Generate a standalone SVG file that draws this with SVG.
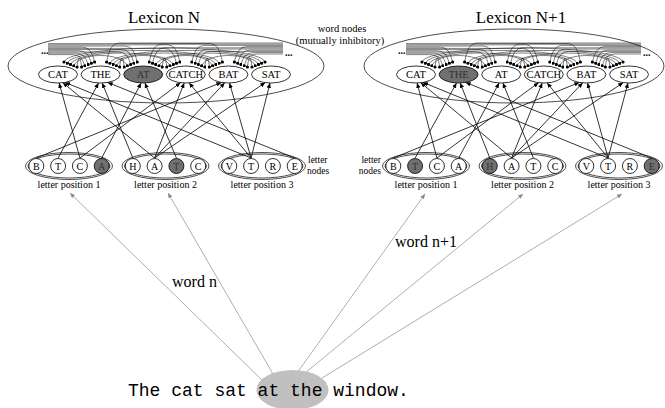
<svg xmlns="http://www.w3.org/2000/svg" width="665" height="408" viewBox="0 0 665 408">
<style>
.serif{font-family:"Liberation Serif","Times New Roman",serif;fill:#000}
.title{font-size:17px;text-anchor:middle}
.wlab{font-size:10.5px;text-anchor:middle}
.llab{font-size:10px;text-anchor:middle}
.side{font-size:9.5px}
.note{font-size:10.5px;text-anchor:middle}
.node{fill:#fff;stroke:#000;stroke-width:0.8}
.on{fill:#707070}
.ontext{fill:#333}
.lex{fill:none;stroke:#000;stroke-width:0.7}
.grp{fill:none;stroke:#000;stroke-width:0.7}
.ff{stroke:#000;stroke-width:0.8;fill:none;marker-end:url(#arr)}
.inh{stroke:#000;stroke-width:0.5;fill:none}
.i2{marker-start:url(#dot);marker-end:url(#dot)}
.i1{marker-start:url(#dot)}
.gaze{stroke:#999;stroke-width:0.8;fill:none;marker-end:url(#garr)}
.ell{font-size:10px;font-weight:bold}
.wordn{font-size:16px}
.mono{font-family:"Liberation Mono","Courier New",monospace;font-size:18px;fill:#000}
</style>
<defs>
<marker id="arr" viewBox="0 0 8 8" refX="8" refY="4" markerWidth="5" markerHeight="5" markerUnits="userSpaceOnUse" orient="auto"><path d="M0,0.5 L8,4 L0,7.5 z" fill="#000"/></marker>
<marker id="garr" viewBox="0 0 8 8" refX="8" refY="4" markerWidth="5" markerHeight="5" markerUnits="userSpaceOnUse" orient="auto"><path d="M0,0.5 L8,4 L0,7.5 z" fill="#888"/></marker>
<marker id="dot" viewBox="0 0 4 4" refX="2" refY="2" markerWidth="3.2" markerHeight="3.2" markerUnits="userSpaceOnUse"><circle cx="2" cy="2" r="2" fill="#000"/></marker>
<g id="inhib" class="inh">
<path class="i2" d="M77,67 C78.5,55 80.1,55 81.6,67"/>
<path class="i2" d="M119.6,67 C121.1,55 122.7,55 124.2,67"/>
<path class="i2" d="M162.2,67 C163.7,55 165.3,55 166.8,67"/>
<path class="i2" d="M204.8,67 C206.3,55 207.9,55 209.4,67"/>
<path class="i2" d="M247.4,67 C248.9,55 250.5,55 252,67"/>
<path class="i2" d="M73.8,65.75 C79.8,52.1 121.4,52.1 127.4,65.75"/>
<path class="i2" d="M116.4,65.75 C122.4,52.1 164,52.1 170,65.75"/>
<path class="i2" d="M159,65.75 C165,52.1 206.6,52.1 212.6,65.75"/>
<path class="i2" d="M201.6,65.75 C207.6,52.1 249.2,52.1 255.2,65.75"/>
<path class="i2" d="M70.5,64.5 C76.5,49.2 167.3,49.2 173.3,64.5"/>
<path class="i2" d="M113.1,64.5 C119.1,49.2 209.9,49.2 215.9,64.5"/>
<path class="i2" d="M155.7,64.5 C161.7,49.2 252.5,49.2 258.5,64.5"/>
<path class="i2" d="M67.3,63.25 C73.3,46.25 213.1,46.25 219.1,63.25"/>
<path class="i2" d="M109.9,63.25 C115.9,46.25 255.7,46.25 261.7,63.25"/>
<path class="i2" d="M64,62 C70,43.3 259,43.3 265,62"/>
<path class="i1" d="M106.6,62 Q109.6,43 118.6,43 L283,43"/>
<path class="i1" d="M149.2,62 Q152.2,44.2 161.2,44.2 L283,44.2"/>
<path class="i1" d="M191.8,62 Q194.8,45.4 203.8,45.4 L283,45.4"/>
<path class="i1" d="M234.4,62 Q237.4,46.6 246.4,46.6 L283,46.6"/>
<path class="i1" d="M152.5,63.25 Q155.5,47.8 164.5,47.8 L283,47.8"/>
<path class="i1" d="M195.1,63.25 Q198.1,49 207.1,49 L283,49"/>
<path class="i1" d="M237.7,63.25 Q240.7,50.2 249.7,50.2 L283,50.2"/>
<path class="i1" d="M198.3,64.5 Q201.3,51.4 210.3,51.4 L283,51.4"/>
<path class="i1" d="M240.9,64.5 Q243.9,52.6 252.9,52.6 L283,52.6"/>
<path class="i1" d="M244.2,65.75 Q247.2,54 256.2,54 L283,54"/>
<path class="i1" d="M222.4,62 Q219.4,43.6 210.4,43.6 L48,43.6"/>
<path class="i1" d="M179.8,62 Q176.8,44.8 167.8,44.8 L48,44.8"/>
<path class="i1" d="M137.2,62 Q134.2,46 125.2,46 L48,46"/>
<path class="i1" d="M94.6,62 Q91.6,47.2 82.6,47.2 L48,47.2"/>
<path class="i1" d="M176.5,63.25 Q173.5,48.4 164.5,48.4 L48,48.4"/>
<path class="i1" d="M133.9,63.25 Q130.9,49.6 121.9,49.6 L48,49.6"/>
<path class="i1" d="M91.3,63.25 Q88.3,50.8 79.3,50.8 L48,50.8"/>
<path class="i1" d="M130.7,64.5 Q127.7,52 118.7,52 L48,52"/>
<path class="i1" d="M88.1,64.5 Q85.1,53.2 76.1,53.2 L48,53.2"/>
<path class="i1" d="M84.8,65.75 Q81.8,54.6 72.8,54.6 L48,54.6"/>
</g>
</defs>
<rect width="665" height="408" fill="#fff"/>

<g id="lexicon-frames">
<ellipse class="lex" cx="166" cy="66" rx="158" ry="37"/>
<ellipse class="lex" cx="514" cy="66" rx="150" ry="37"/>
<text class="serif title" x="164" y="23">Lexicon N</text>
<text class="serif title" x="521" y="23">Lexicon N+1</text>
<text class="serif note" x="342" y="32">word nodes</text>
<text class="serif note" x="340" y="44">(mutually inhibitory)</text>
<text class="serif ell" x="41" y="54">...</text>
<text class="serif ell" x="285" y="56">...</text>
<text class="serif ell" x="398" y="54">...</text>
<text class="serif ell" x="643" y="56">...</text>
</g>

<g id="connectors">
<use href="#inhib"/>
<use href="#inhib" transform="translate(358,0)"/>
<line class="ff" x1="79.9" y1="158" x2="59.1" y2="83"/>
<line class="ff" x1="154.6" y1="158" x2="62.8" y2="82.7"/>
<line class="ff" x1="251.1" y1="158" x2="65" y2="82.4"/>
<line class="ff" x1="58.1" y1="158" x2="98.5" y2="83"/>
<line class="ff" x1="132.8" y1="158" x2="102.2" y2="83"/>
<line class="ff" x1="294.7" y1="158" x2="107.6" y2="82.4"/>
<line class="ff" x1="101.7" y1="158" x2="141.1" y2="83"/>
<line class="ff" x1="176.4" y1="158" x2="144.9" y2="83"/>
<line class="ff" x1="79.9" y1="158" x2="180.5" y2="82.7"/>
<line class="ff" x1="154.6" y1="158" x2="184.2" y2="83"/>
<line class="ff" x1="251.1" y1="158" x2="189.1" y2="82.9"/>
<line class="ff" x1="36.3" y1="158" x2="221.4" y2="82.4"/>
<line class="ff" x1="154.6" y1="158" x2="224.7" y2="82.8"/>
<line class="ff" x1="251.1" y1="158" x2="229.5" y2="83"/>
<line class="ff" x1="154.6" y1="158" x2="265.2" y2="82.6"/>
<line class="ff" x1="251.1" y1="158" x2="270" y2="83"/>

<line class="ff" x1="436.9" y1="158" x2="417.1" y2="83"/>
<line class="ff" x1="511.6" y1="158" x2="420.8" y2="82.7"/>
<line class="ff" x1="608.1" y1="158" x2="423" y2="82.4"/>
<line class="ff" x1="415.1" y1="158" x2="456.5" y2="83"/>
<line class="ff" x1="489.8" y1="158" x2="460.2" y2="83"/>
<line class="ff" x1="651.7" y1="158" x2="465.6" y2="82.4"/>
<line class="ff" x1="458.7" y1="158" x2="499.1" y2="83"/>
<line class="ff" x1="533.4" y1="158" x2="502.9" y2="83"/>
<line class="ff" x1="436.9" y1="158" x2="538.5" y2="82.7"/>
<line class="ff" x1="511.6" y1="158" x2="542.2" y2="83"/>
<line class="ff" x1="608.1" y1="158" x2="547.1" y2="82.9"/>
<line class="ff" x1="393.3" y1="158" x2="579.4" y2="82.4"/>
<line class="ff" x1="511.6" y1="158" x2="582.7" y2="82.8"/>
<line class="ff" x1="608.1" y1="158" x2="587.5" y2="83"/>
<line class="ff" x1="511.6" y1="158" x2="623.2" y2="82.6"/>
<line class="ff" x1="608.1" y1="158" x2="628" y2="83"/>

<line class="gaze" x1="263" y1="381" x2="70" y2="193"/>
<line class="gaze" x1="273" y1="374" x2="168" y2="193"/>
<line class="gaze" x1="297" y1="373" x2="425" y2="194"/>
<line class="gaze" x1="305" y1="373" x2="523" y2="194"/>
<line class="gaze" x1="322" y1="378" x2="622" y2="194"/>
</g>

<g id="word-nodes-N">
<g id="wN-CAT"><ellipse class="node" cx="58" cy="74.5" rx="19.5" ry="8.5"/><text class="serif wlab" x="58" y="78.3">CAT</text></g>
<g id="wN-THE"><ellipse class="node" cx="100.6" cy="74.5" rx="19.5" ry="8.5"/><text class="serif wlab" x="100.6" y="78.3">THE</text></g>
<g id="wN-AT"><ellipse class="node on" cx="143.2" cy="74.5" rx="19.5" ry="8.5"/><text class="serif wlab ontext" x="143.2" y="78.3">AT</text></g>
<g id="wN-CATCH"><ellipse class="node" cx="185.8" cy="74.5" rx="19.5" ry="8.5"/><text class="serif wlab" x="185.8" y="78.3">CATCH</text></g>
<g id="wN-BAT"><ellipse class="node" cx="228.4" cy="74.5" rx="19.5" ry="8.5"/><text class="serif wlab" x="228.4" y="78.3">BAT</text></g>
<g id="wN-SAT"><ellipse class="node" cx="271" cy="74.5" rx="19.5" ry="8.5"/><text class="serif wlab" x="271" y="78.3">SAT</text></g>
</g>
<g id="word-nodes-N1">
<g id="wN1-CAT"><ellipse class="node" cx="416" cy="74.5" rx="19.5" ry="8.5"/><text class="serif wlab" x="416" y="78.3">CAT</text></g>
<g id="wN1-THE"><ellipse class="node on" cx="458.6" cy="74.5" rx="19.5" ry="8.5"/><text class="serif wlab ontext" x="458.6" y="78.3">THE</text></g>
<g id="wN1-AT"><ellipse class="node" cx="501.2" cy="74.5" rx="19.5" ry="8.5"/><text class="serif wlab" x="501.2" y="78.3">AT</text></g>
<g id="wN1-CATCH"><ellipse class="node" cx="543.8" cy="74.5" rx="19.5" ry="8.5"/><text class="serif wlab" x="543.8" y="78.3">CATCH</text></g>
<g id="wN1-BAT"><ellipse class="node" cx="586.4" cy="74.5" rx="19.5" ry="8.5"/><text class="serif wlab" x="586.4" y="78.3">BAT</text></g>
<g id="wN1-SAT"><ellipse class="node" cx="629" cy="74.5" rx="19.5" ry="8.5"/><text class="serif wlab" x="629" y="78.3">SAT</text></g>
</g>

<g id="letter-groups-N">
<g id="gN-1"><ellipse class="grp" cx="69" cy="166" rx="43.5" ry="13.5"/><ellipse class="grp" cx="69" cy="166" rx="41" ry="12"/><text class="serif llab" x="69" y="188">letter position 1</text></g>
<g id="gN-2"><ellipse class="grp" cx="165.5" cy="166" rx="43.5" ry="13.5"/><ellipse class="grp" cx="165.5" cy="166" rx="41" ry="12"/><text class="serif llab" x="165.5" y="188">letter position 2</text></g>
<g id="gN-3"><ellipse class="grp" cx="262" cy="166" rx="43.5" ry="13.5"/><ellipse class="grp" cx="262" cy="166" rx="41" ry="12"/><text class="serif llab" x="262" y="188">letter position 3</text></g>
<text class="serif side" x="308" y="163">letter</text>
<text class="serif side" x="307" y="173.5">nodes</text>
</g>
<g id="letters-N">
<g id="lN-1B"><circle class="node" cx="36.3" cy="166" r="7.5"/><text class="serif llab" x="36.3" y="169.5">B</text></g>
<g id="lN-1T"><circle class="node" cx="58.1" cy="166" r="7.5"/><text class="serif llab" x="58.1" y="169.5">T</text></g>
<g id="lN-1C"><circle class="node" cx="79.9" cy="166" r="7.5"/><text class="serif llab" x="79.9" y="169.5">C</text></g>
<g id="lN-1A"><circle class="node on" cx="101.7" cy="166" r="7.5"/><text class="serif llab ontext" x="101.7" y="169.5">A</text></g>
<g id="lN-2H"><circle class="node" cx="132.8" cy="166" r="7.5"/><text class="serif llab" x="132.8" y="169.5">H</text></g>
<g id="lN-2A"><circle class="node" cx="154.6" cy="166" r="7.5"/><text class="serif llab" x="154.6" y="169.5">A</text></g>
<g id="lN-2T"><circle class="node on" cx="176.4" cy="166" r="7.5"/><text class="serif llab ontext" x="176.4" y="169.5">T</text></g>
<g id="lN-2C"><circle class="node" cx="198.2" cy="166" r="7.5"/><text class="serif llab" x="198.2" y="169.5">C</text></g>
<g id="lN-3V"><circle class="node" cx="229.3" cy="166" r="7.5"/><text class="serif llab" x="229.3" y="169.5">V</text></g>
<g id="lN-3T"><circle class="node" cx="251.1" cy="166" r="7.5"/><text class="serif llab" x="251.1" y="169.5">T</text></g>
<g id="lN-3R"><circle class="node" cx="272.9" cy="166" r="7.5"/><text class="serif llab" x="272.9" y="169.5">R</text></g>
<g id="lN-3E"><circle class="node" cx="294.7" cy="166" r="7.5"/><text class="serif llab" x="294.7" y="169.5">E</text></g>
</g>

<g id="letter-groups-N1">
<g id="gN1-1"><ellipse class="grp" cx="426" cy="166" rx="43.5" ry="13.5"/><ellipse class="grp" cx="426" cy="166" rx="41" ry="12"/><text class="serif llab" x="426" y="188">letter position 1</text></g>
<g id="gN1-2"><ellipse class="grp" cx="522.5" cy="166" rx="43.5" ry="13.5"/><ellipse class="grp" cx="522.5" cy="166" rx="41" ry="12"/><text class="serif llab" x="522.5" y="188">letter position 2</text></g>
<g id="gN1-3"><ellipse class="grp" cx="619" cy="166" rx="43.5" ry="13.5"/><ellipse class="grp" cx="619" cy="166" rx="41" ry="12"/><text class="serif llab" x="619" y="188">letter position 3</text></g>
<text class="serif side" x="381" y="163" style="text-anchor:end">letter</text>
<text class="serif side" x="381" y="173.5" style="text-anchor:end">nodes</text>
</g>
<g id="letters-N1">
<g id="lN1-1B"><circle class="node" cx="393.3" cy="166" r="7.5"/><text class="serif llab" x="393.3" y="169.5">B</text></g>
<g id="lN1-1T"><circle class="node on" cx="415.1" cy="166" r="7.5"/><text class="serif llab ontext" x="415.1" y="169.5">T</text></g>
<g id="lN1-1C"><circle class="node" cx="436.9" cy="166" r="7.5"/><text class="serif llab" x="436.9" y="169.5">C</text></g>
<g id="lN1-1A"><circle class="node" cx="458.7" cy="166" r="7.5"/><text class="serif llab" x="458.7" y="169.5">A</text></g>
<g id="lN1-2H"><circle class="node on" cx="489.8" cy="166" r="7.5"/><text class="serif llab ontext" x="489.8" y="169.5">H</text></g>
<g id="lN1-2A"><circle class="node" cx="511.6" cy="166" r="7.5"/><text class="serif llab" x="511.6" y="169.5">A</text></g>
<g id="lN1-2T"><circle class="node" cx="533.4" cy="166" r="7.5"/><text class="serif llab" x="533.4" y="169.5">T</text></g>
<g id="lN1-2C"><circle class="node" cx="555.2" cy="166" r="7.5"/><text class="serif llab" x="555.2" y="169.5">C</text></g>
<g id="lN1-3V"><circle class="node" cx="586.3" cy="166" r="7.5"/><text class="serif llab" x="586.3" y="169.5">V</text></g>
<g id="lN1-3T"><circle class="node" cx="608.1" cy="166" r="7.5"/><text class="serif llab" x="608.1" y="169.5">T</text></g>
<g id="lN1-3R"><circle class="node" cx="629.9" cy="166" r="7.5"/><text class="serif llab" x="629.9" y="169.5">R</text></g>
<g id="lN1-3E"><circle class="node on" cx="651.7" cy="166" r="7.5"/><text class="serif llab ontext" x="651.7" y="169.5">E</text></g>
</g>

<g id="fixation">
<ellipse cx="292.5" cy="390" rx="36" ry="20" fill="#c0c0c0"/>
<text class="mono" x="128" y="396">The cat sat at the window.</text>
</g>
<text class="serif wordn" x="172" y="287">word n</text>
<text class="serif wordn" x="395" y="247">word n+1</text>
</svg>
